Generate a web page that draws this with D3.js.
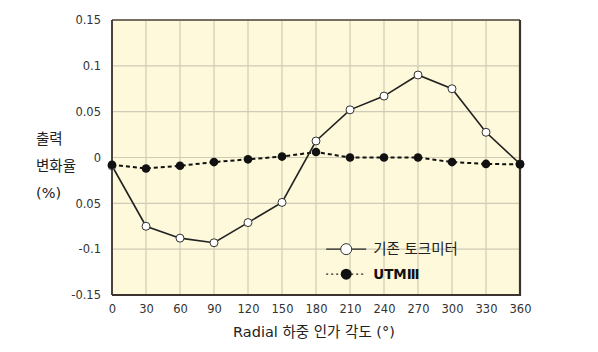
<!DOCTYPE html>
<html>
<head>
<meta charset="utf-8">
<script src="https://cdn.jsdelivr.net/npm/d3@7"></script>
<style>
  body { margin: 0; background: #fff; }
  text { font-family: "DejaVu Sans", "Noto Sans CJK KR", sans-serif; }
</style>
</head>
<body>
<div id="chart"></div>
<script>
// Data
const angles = [0, 30, 60, 90, 120, 150, 180, 210, 240, 270, 300, 330, 360];
const torqueMeter = [-0.009, -0.075, -0.088, -0.093, -0.071, -0.049, 0.018, 0.052, 0.067, 0.090, 0.075, 0.0275, -0.007];
const utm3 = [-0.008, -0.012, -0.009, -0.005, -0.002, 0.001, 0.006, 0.0, 0.0, 0.0, -0.005, -0.007, -0.0075];
const yTicks = [0.15, 0.1, 0.05, 0, -0.05, -0.1, -0.15];
const yTickLabels = ['0.15', '0.1', '0.05', '0', '0.05', '-0.1', '-0.15'];
const seriesNames = ['기존 토크미터', 'UTMⅢ'];

const W = 598, H = 352;
const margin = { top: 20, right: 78, bottom: 57, left: 112 };
const width = W - margin.left - margin.right;
const height = H - margin.top - margin.bottom;

const svg = d3.select('#chart')
    .append('svg')
    .attr('width', W)
    .attr('height', H)
    .append('g')
    .attr('transform', `translate(${margin.left},${margin.top})`);

// Scales
const x = d3.scaleLinear().domain([0, 360]).range([0, width]);
const y = d3.scaleLinear().domain([-0.15, 0.15]).range([height, 0]);

// Plot background
svg.append('rect')
    .attr('width', width)
    .attr('height', height)
    .attr('fill', '#fdf9da');

// Grid lines
svg.append('g')
    .selectAll('line')
    .data(angles.slice(1, -1))
    .enter()
    .append('line')
    .attr('x1', d => x(d)).attr('x2', d => x(d))
    .attr('y1', 0).attr('y2', height)
    .attr('stroke', '#cfcbb6')
    .attr('stroke-width', 1.2);

svg.append('g')
    .selectAll('line')
    .data(yTicks.slice(1, -1))
    .enter()
    .append('line')
    .attr('x1', 0).attr('x2', width)
    .attr('y1', d => y(d)).attr('y2', d => y(d))
    .attr('stroke', '#cfcbb6')
    .attr('stroke-width', 1.2);

// Frame
svg.append('line').attr('x1', 0).attr('x2', width).attr('y1', 0).attr('y2', 0)
    .attr('stroke', '#786d62').attr('stroke-width', 2);
svg.append('line').attr('x1', 0).attr('x2', 0).attr('y1', 0).attr('y2', height)
    .attr('stroke', '#4a423c').attr('stroke-width', 2);
svg.append('line').attr('x1', width).attr('x2', width).attr('y1', 0).attr('y2', height + 1)
    .attr('stroke', '#3a3330').attr('stroke-width', 2.2);
svg.append('line').attr('x1', 0).attr('x2', width).attr('y1', height).attr('y2', height)
    .attr('stroke', '#3a3330').attr('stroke-width', 2.2);

// Axes (labels only)
const xAxis = svg.append('g')
    .attr('transform', `translate(0,${height})`)
    .call(d3.axisBottom(x).tickValues(angles).tickSize(0).tickPadding(10));
xAxis.select('.domain').remove();
xAxis.selectAll('text').style('font-size', '11.5px').attr('fill', '#333')
    .style('font-family', '"DejaVu Sans", sans-serif');

const yAxis = svg.append('g')
    .call(d3.axisLeft(y).tickValues(yTicks).tickSize(0).tickPadding(11)
        .tickFormat((d, i) => yTickLabels[i]));
yAxis.select('.domain').remove();
yAxis.selectAll('text').style('font-size', '11.5px').attr('fill', '#333')
    .style('font-family', '"DejaVu Sans", sans-serif');

// Axis titles
svg.append('text')
    .attr('x', width / 2 - 2)
    .attr('y', height + 42)
    .attr('text-anchor', 'middle')
    .style('font-size', '14.5px')
    .attr('fill', '#222')
    .text('Radial 하중 인가 각도 (°)');

const yTitle = ['출력', '변화율', '(%)'];
svg.append('g')
    .selectAll('text')
    .data(yTitle)
    .enter()
    .append('text')
    .attr('x', -76)
    .attr('y', (d, i) => 124 + i * 27)
    .style('font-size', '14.5px')
    .attr('fill', '#222')
    .text(d => d);

// Lines
const line = d3.line()
    .x((d, i) => x(angles[i]))
    .y(d => y(d));

svg.append('path')
    .datum(utm3)
    .attr('d', line)
    .attr('fill', 'none')
    .attr('stroke', '#111')
    .attr('stroke-width', 2)
    .attr('stroke-dasharray', '4,3');

svg.append('path')
    .datum(torqueMeter)
    .attr('d', line)
    .attr('fill', 'none')
    .attr('stroke', '#222')
    .attr('stroke-width', 1.6);

svg.append('g')
    .selectAll('circle')
    .data(torqueMeter)
    .enter()
    .append('circle')
    .attr('cx', (d, i) => x(angles[i]))
    .attr('cy', d => y(d))
    .attr('r', 4)
    .attr('fill', '#fff')
    .attr('stroke', '#333')
    .attr('stroke-width', 1);

svg.append('g')
    .selectAll('circle')
    .data(utm3)
    .enter()
    .append('circle')
    .attr('cx', (d, i) => x(angles[i]))
    .attr('cy', d => y(d))
    .attr('r', 4.3)
    .attr('fill', '#111');

// Legend
const legend = svg.append('g').attr('transform', `translate(${x(189)},${y(-0.1)})`);
legend.append('line').attr('x1', 0).attr('x2', 40).attr('y1', 0).attr('y2', 0)
    .attr('stroke', '#222').attr('stroke-width', 1.4);
legend.append('circle').attr('cx', 20).attr('cy', 0).attr('r', 5.5)
    .attr('fill', '#fff').attr('stroke', '#333').attr('stroke-width', 1);
legend.append('text').attr('x', 47).attr('y', 5).style('font-size', '14.5px')
    .attr('fill', '#222').text(seriesNames[0]);

legend.append('line').attr('x1', 0).attr('x2', 40).attr('y1', 25).attr('y2', 25)
    .attr('stroke', '#222').attr('stroke-width', 1.2).attr('stroke-dasharray', '2,3');
legend.append('circle').attr('cx', 20).attr('cy', 25).attr('r', 5.5).attr('fill', '#111');
legend.append('text').attr('x', 47).attr('y', 30).style('font-size', '13.5px')
    .style('font-weight', 'bold').attr('fill', '#111').text(seriesNames[1]);
</script>
</body>
</html>
